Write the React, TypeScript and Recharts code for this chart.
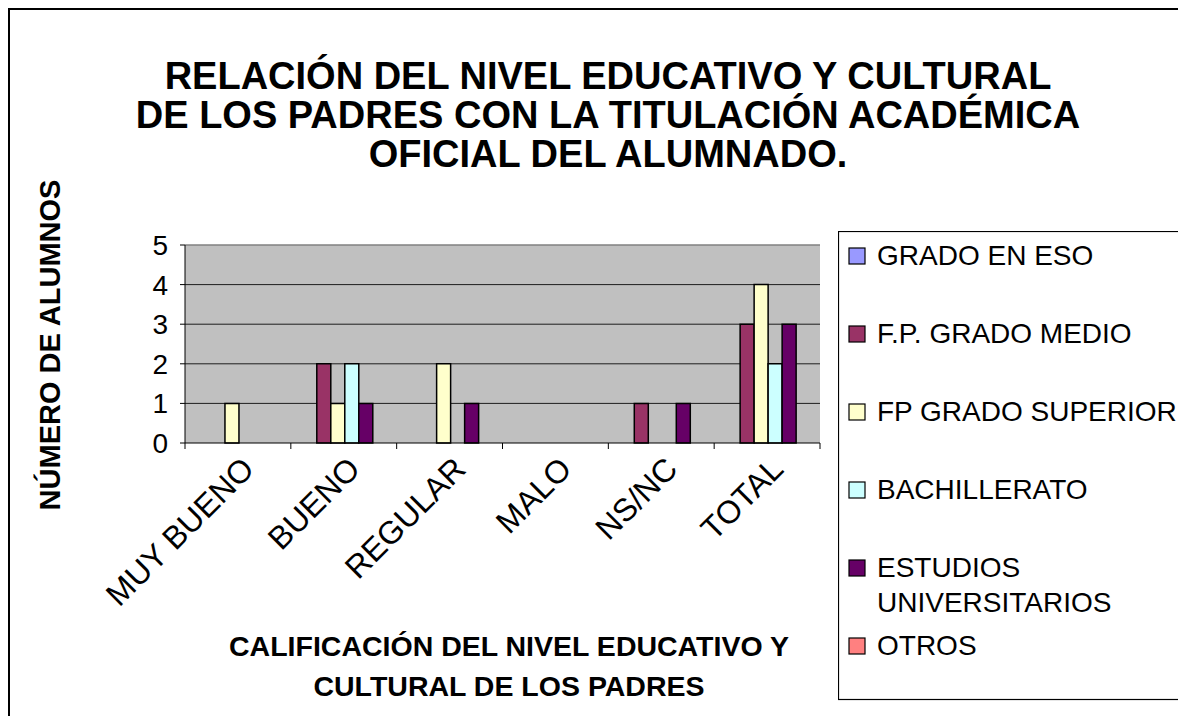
import React from 'react';
import { BarChart, Bar, XAxis, YAxis, CartesianGrid, Legend, ReferenceLine } from 'recharts';

const categories = ['MUY BUENO', 'BUENO', 'REGULAR', 'MALO', 'NS/NC', 'TOTAL'];
const gradoEso = [0, 0, 0, 0, 0, 0];
const fpMedio = [0, 2, 0, 0, 1, 3];
const fpSuperior = [1, 1, 2, 0, 0, 4];
const bachillerato = [0, 2, 0, 0, 0, 2];
const universitarios = [0, 1, 1, 0, 1, 3];
const otros = [0, 0, 0, 0, 0, 0];
const yTicks = [0, 1, 2, 3, 4, 5];

const seriesNames = ['GRADO EN ESO', 'F.P. GRADO MEDIO', 'FP GRADO SUPERIOR', 'BACHILLERATO', 'ESTUDIOS UNIVERSITARIOS', 'OTROS'];
const seriesKeys = ['eso', 'medio', 'superior', 'bach', 'univ', 'otros'];
const seriesColors = ['#9999FF', '#993366', '#FFFFCC', '#CCFFFF', '#660066', '#FF8080'];
const seriesValues = [gradoEso, fpMedio, fpSuperior, bachillerato, universitarios, otros];

const titleLines = ['RELACIÓN DEL NIVEL EDUCATIVO Y CULTURAL', 'DE LOS PADRES CON LA TITULACIÓN ACADÉMICA', 'OFICIAL DEL ALUMNADO.'];
const xTitleLines = ['CALIFICACIÓN DEL NIVEL EDUCATIVO Y', 'CULTURAL DE LOS PADRES'];
const yTitle = 'NÚMERO DE ALUMNOS';

const data = categories.map((c, i) => {
  const row: any = { name: c };
  seriesKeys.forEach((k, j) => { row[k] = seriesValues[j][i]; });
  return row;
});

const FONT = '"Liberation Sans", Arial, sans-serif';

const XTick = (props: any) => {
  const { x, y, payload, index } = props;
  const half = payload && payload.offset ? payload.offset : 635 / 12;
  const tx = x + 18;
  const ty = y + 28;
  return (
    <g>
      <line x1={x - half} y1={y} x2={x - half} y2={y + 6} stroke="#000" strokeWidth={1} />
      {index === categories.length - 1 && (
        <line x1={x + half} y1={y} x2={x + half} y2={y + 6} stroke="#000" strokeWidth={1} />
      )}
      <text x={tx} y={ty} transform={`rotate(-45 ${tx} ${ty})`} textAnchor="end" fontSize={32} fontFamily={FONT} fill="#000">
        {payload.value}
      </text>
    </g>
  );
};

const LegendContent = (props: any) => {
  const raw = props.payload || [];
  const payload = [...raw].sort((a: any, b: any) => seriesNames.indexOf(a.value) - seriesNames.indexOf(b.value));
  const rowStep = 78;
  return (
    <svg width={370} height={470} style={{ display: 'block' }}>
      <rect x={0.5} y={0.5} width={400} height={468} fill="#fff" stroke="#000" strokeWidth={1.2} />
      {payload.map((p: any, i: number) => {
        const base = 34 + i * rowStep;
        const words = String(p.value).split(' ');
        const lines = String(p.value).length > 20 ? [words[0], words.slice(1).join(' ')] : [String(p.value)];
        return (
          <g key={i}>
            <rect x={11} y={base - 17} width={16} height={16} fill={p.color} stroke="#000" strokeWidth={1.2} />
            {lines.map((ln, j) => (
              <text key={j} x={39} y={base + j * 35} fontSize={28} fontFamily={FONT} fill="#000">{ln}</text>
            ))}
          </g>
        );
      })}
    </svg>
  );
};

export default function App() {
  return (
    <div style={{ position: 'relative', width: 1176, height: 706, overflow: 'hidden', borderLeft: '2px solid #000', borderTop: '2px solid #000', background: '#fff', fontFamily: FONT }}>
      <BarChart
        width={1176}
        height={706}
        data={data}
        margin={{ top: 235, right: 366, left: 115, bottom: 153 }}
        barCategoryGap="11.3%"
        barGap={0}
      >
        <CartesianGrid fill="#C0C0C0" stroke="#000" strokeOpacity={0.85} vertical={false} horizontalValues={[1, 2, 3, 4]} />
        <ReferenceLine y={5} stroke="#808080" strokeWidth={1.5} />
        <XAxis
          dataKey="name"
          height={120}
          tickLine={false}
          tickSize={0}
          tickMargin={0}
          axisLine={{ stroke: '#000', strokeWidth: 1 }}
          tick={<XTick />}
          interval={0}
        />
        <YAxis
          domain={[0, 5]}
          ticks={yTicks}
          width={60}
          tickSize={5}
          tickMargin={12}
          axisLine={{ stroke: '#000', strokeWidth: 1 }}
          tickLine={{ stroke: '#000' }}
          tick={{ fontSize: 28, fill: '#000', fontFamily: FONT }}
          allowDecimals={false}
        />
        {seriesKeys.map((k, i) => (
          <Bar key={k} dataKey={k} name={seriesNames[i]} fill={seriesColors[i]} stroke="#000" strokeWidth={1.5} isAnimationActive={false} />
        ))}
        <Legend
          layout="vertical"
          align="center"
          verticalAlign="middle"
          content={<LegendContent />}
          wrapperStyle={{ position: 'absolute', left: 828, top: 221, width: 370, height: 470 }}
        />
      </BarChart>
      <svg width={1176} height={706} style={{ position: 'absolute', left: 0, top: 0, pointerEvents: 'none' }}>
        {titleLines.map((t, i) => (
          <text key={i} x={598} y={79 + i * 39} textAnchor="middle" fontSize={38} fontWeight="bold" fontFamily={FONT} fill="#000">{t}</text>
        ))}
        <text x={50} y={335} transform="rotate(-90 50 335)" textAnchor="middle" fontSize={29} fontWeight="bold" fontFamily={FONT} fill="#000">{yTitle}</text>
        {xTitleLines.map((t, i) => (
          <text key={i} x={499} y={646 + i * 40} textAnchor="middle" fontSize={28.5} fontWeight="bold" fontFamily={FONT} fill="#000">{t}</text>
        ))}
      </svg>
    </div>
  );
}
